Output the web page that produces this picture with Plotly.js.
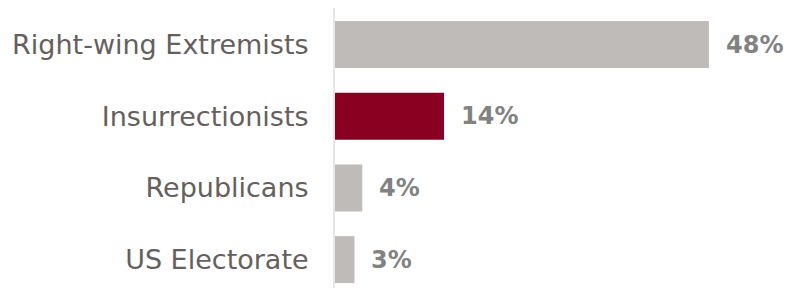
<!DOCTYPE html>
<html>
<head>
<meta charset="utf-8">
<script src="https://cdn.plot.ly/plotly-3.0.1.min.js"></script>
<style>html,body{margin:0;padding:0;background:#fff}#chart{width:786px;height:288px}</style>
</head>
<body>
<div id="chart"></div>
<script>
const categories = ["Right-wing Extremists", "Insurrectionists", "Republicans", "US Electorate"];
const values = [48, 14, 3.5, 2.5];
const valueLabels = ["48%", "14%", "4%", "3%"];
const barColors = ["#bfbbb8", "#8a0021", "#bfbbb8", "#bfbbb8"];

const trace = {
  type: "bar",
  orientation: "h",
  y: categories,
  x: values,
  marker: {color: barColors},
  hoverinfo: "skip"
};

const annotations = categories.map((c, i) => ({
  x: values[i], y: c, xref: "x", yref: "y",
  text: "<b>" + valueLabels[i] + "</b>",
  showarrow: false, xanchor: "left", xshift: 15,
  font: {family: "DejaVu Sans, sans-serif", size: 24, color: "#828282"}
}));

const layout = {
  width: 786, height: 288,
  margin: {l: 335, r: 0, t: 8, b: 0},
  paper_bgcolor: "#fff", plot_bgcolor: "#fff",
  bargap: 0.345,
  showlegend: false,
  xaxis: {range: [0, 57.9], visible: false, fixedrange: true},
  yaxis: {
    type: "category",
    range: [3.396, -0.509],
    showline: true, linecolor: "#e6e6e6", linewidth: 2,
    ticks: "", showgrid: false, zeroline: false,
    ticklabelstandoff: 19,
    tickfont: {family: "DejaVu Sans, sans-serif", size: 27, color: "#65605e"}
  },
  annotations: annotations
};

Plotly.newPlot("chart", [trace], layout, {displayModeBar: false, staticPlot: true});
</script>
</body>
</html>
